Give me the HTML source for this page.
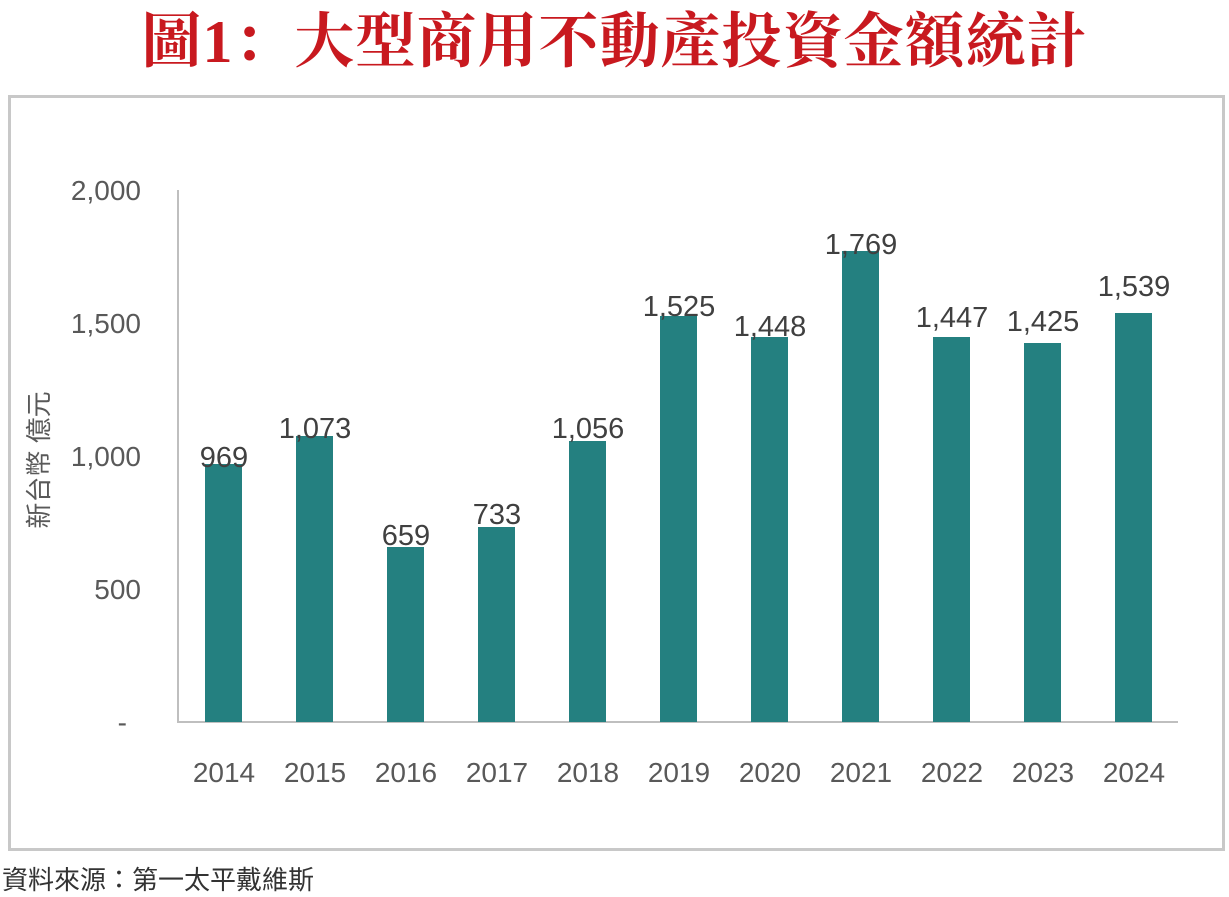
<!DOCTYPE html>
<html><head><meta charset="utf-8"><style>
body{margin:0;width:1229px;height:895px;background:#fff;overflow:hidden;position:relative;font-family:"Liberation Sans","Noto Sans CJK TC",sans-serif}
.title{position:absolute;left:0;width:1229px;top:5px;text-align:center;color:#c8191f;font-family:"Liberation Serif","Noto Serif CJK SC",serif;font-weight:bold;font-size:60px;line-height:75px;letter-spacing:1px}
.box{position:absolute;left:8px;top:95px;width:1211px;height:750px;border:3px solid #c8c8c8}
.src{position:absolute;left:2px;top:860px;font-size:26px;color:#333}
</style></head><body>
<div class="title">圖1：大型商用不動產投資金額統計</div>
<div class="box"></div>
<svg width="1229" height="895" style="position:absolute;left:0;top:0" font-family="Liberation Sans, Noto Sans CJK TC, sans-serif">
<g stroke="#bfbfbf" stroke-width="2"><line x1="178" y1="190" x2="178" y2="723"/><line x1="178" y1="722" x2="1178" y2="722"/></g>
<g font-size="28" fill="#595959" text-anchor="end">
<text x="141" y="200">2,000</text><text x="141" y="333">1,500</text><text x="141" y="466">1,000</text><text x="141" y="599">500</text><text x="127" y="732">-</text></g>
<text transform="translate(48,460) rotate(-90)" font-size="26" fill="#595959" text-anchor="middle">新台幣 億元</text>
<g fill="#248080">
<rect x="205" y="464" width="37" height="258"/>
<rect x="296" y="436" width="37" height="286"/>
<rect x="387" y="547" width="37" height="175"/>
<rect x="478" y="527" width="37" height="195"/>
<rect x="569" y="441" width="37" height="281"/>
<rect x="660" y="316" width="37" height="406"/>
<rect x="751" y="337" width="37" height="385"/>
<rect x="842" y="251" width="37" height="471"/>
<rect x="933" y="337" width="37" height="385"/>
<rect x="1024" y="343" width="37" height="379"/>
<rect x="1115" y="313" width="37" height="409"/>
</g>
<g font-size="29" fill="#404040" text-anchor="middle">
<text x="224" y="467">969</text><text x="315" y="438">1,073</text><text x="406" y="545">659</text><text x="497" y="524">733</text><text x="588" y="438">1,056</text><text x="679" y="316">1,525</text><text x="770" y="336">1,448</text><text x="861" y="254">1,769</text><text x="952" y="327">1,447</text><text x="1043" y="331">1,425</text><text x="1134" y="296">1,539</text>
</g>
<g font-size="28" fill="#595959" text-anchor="middle">
<text x="224" y="782">2014</text><text x="315" y="782">2015</text><text x="406" y="782">2016</text><text x="497" y="782">2017</text><text x="588" y="782">2018</text><text x="679" y="782">2019</text><text x="770" y="782">2020</text><text x="861" y="782">2021</text><text x="952" y="782">2022</text><text x="1043" y="782">2023</text><text x="1134" y="782">2024</text>
</g>
</svg>
<div class="src">資料來源：第一太平戴維斯</div>
</body></html>
